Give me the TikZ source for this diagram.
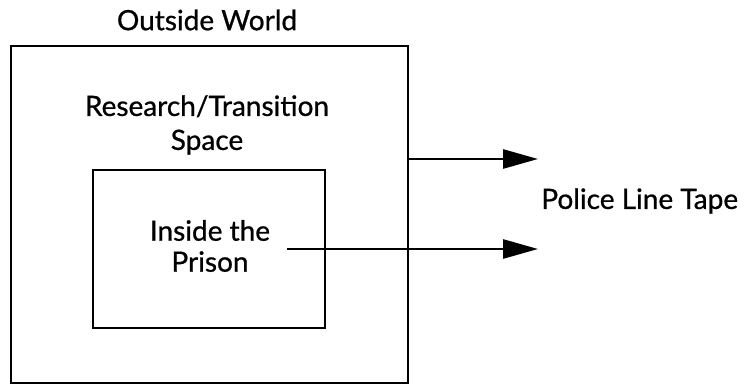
\documentclass[tikz,border=0pt]{standalone}
\usepackage{fontspec}
\setmainfont{Lato}[BoldFont=Lato,BoldFeatures={FakeBold=0.8}]
\usetikzlibrary{arrows.meta}

\begin{document}
\begin{tikzpicture}[x=1pt,y=-1pt,line width=2.7pt,
    font=\fontsize{28}{34}\selectfont\bfseries,
    box/.style={draw,inner sep=0pt},
    lbl/.style={align=center,inner sep=0pt},
    tape/.style={-{Triangle[length=35pt,width=19pt]}}]
    \useasboundingbox (0,0) rectangle (745,385);
    % boxes
    \node[box,minimum width=397pt,minimum height=337pt] (outer) at (209.5,214.5) {};
    \node[box,minimum width=232pt,minimum height=158pt] (inner) at (209,249) {};
    % labels
    \node[lbl] (world) at (207,20) {Outside World};
    \node[lbl] (research) at (207,125) {Research/Transition\\Space};
    \node[lbl] (prison) at (210,246) {Inside the\\[-3pt]Prison};
    \node[lbl,anchor=west] (police) at (540,201) {Police Line Tape};
    % tape lines
    \coordinate (start1) at (outer.east |- 0,159);
    \coordinate (start2) at (287,249);
    \coordinate (end1) at (538,159);
    \coordinate (end2) at (538,249);
    \draw[tape] (start1) -- (end1);
    \draw[tape] (start2) -- (end2);
\end{tikzpicture}
\end{document}
